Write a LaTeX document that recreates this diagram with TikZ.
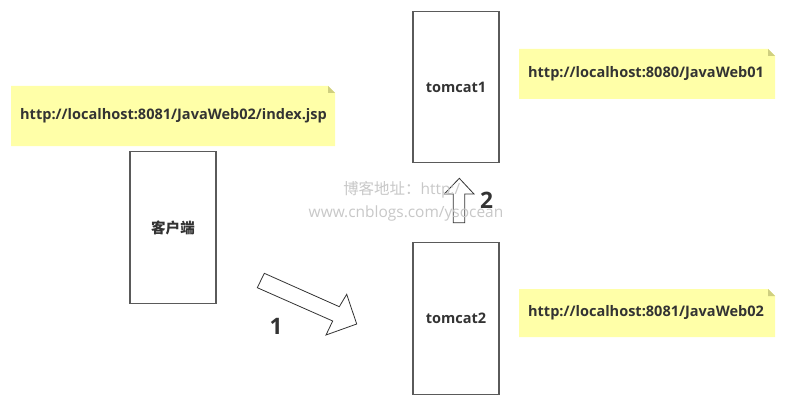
\documentclass[tikz,border=0pt]{standalone}
\usepackage{fontspec}
\setmainfont{Open Sans}
\newfontfamily\cjk{Noto Sans CJK SC}
\definecolor{notefill}{HTML}{FFFFA8}
\definecolor{notefold}{HTML}{CFCF80}
\definecolor{boxline}{HTML}{5A5A5A}
\definecolor{textdark}{HTML}{333333}
\definecolor{wmark}{HTML}{C8C8C8}
\tikzset{
  px/.style={x=0.75pt,y=-0.75pt},
  server/.style={draw=boxline,line width=0.8pt,fill=white,minimum width=64.5pt,minimum height=113.5pt,inner sep=0pt,text=textdark,font=\bfseries\fontsize{10.9}{12}\selectfont},
  note/.style={fill=notefill,draw=none,inner sep=0pt,text=textdark,font=\bfseries\fontsize{10.9}{12}\selectfont},
  bigarrow/.style={draw=textdark,line width=0.6pt,fill=white,line join=miter},
  steplabel/.style={text=textdark,inner sep=0pt,font=\bfseries\fontsize{17}{20}\selectfont},
  wm/.style={text=wmark,inner sep=0pt,font=\fontsize{11.6}{13}\selectfont},
}
\begin{document}
\begin{tikzpicture}[px]
\useasboundingbox[fill=white] (0,0) rectangle (789,403);
% notes
\newcommand\notebox[5]{%
  \fill[notefill] (#1,#2) -- (#3-7,#2) -- (#3,#2+7) -- (#3,#4) -- (#1,#4) -- cycle;
  \fill[notefold] (#3-7,#2) -- (#3,#2+7) -- (#3-7,#2+7) -- cycle;
  \coordinate (#5) at ({(#1+#3)/2},{(#2+#4)/2});
}
\notebox{11}{86}{335}{146}{n1}
\node[note,anchor=center] (t1) at (173.5,116) {http://localhost:8081/JavaWeb02/index.jsp};
\notebox{519}{49}{775}{99}{n2}
\node[note,anchor=center] (t2) at (646,74) {http://localhost:8080/JavaWeb01};
\notebox{519}{289}{775}{337}{n3}
\node[note,anchor=center] (t3) at (646,313) {http://localhost:8081/JavaWeb02};
% boxes
\node[server] (client) at (173,227.5) {\cjk\bfseries 客户端};
\node[server] (tc1) at (456,87) {tomcat1};
\node[server] (tc2) at (456,318.5) {tomcat2};
% arrow 1
\draw[bigarrow] (264.3,273.3) -- (339.3,306.7) -- (346.7,294.3) -- (356.7,324) -- (326,335) -- (332.7,321) -- (257.3,287.7) -- cycle;
\node[steplabel] (s1) at (276,326) {1};
% arrow 2
\draw[bigarrow] (453.3,222.7) -- (453.3,194) -- (444.3,194) -- (459.3,178.3) -- (474,194) -- (464.7,194) -- (464.7,222.7) -- cycle;
\node[steplabel] (s2) at (486.5,200) {2};
% watermark
\node[wm,anchor=west] (w1) at (343,190) {{\cjk 博客地址：}http:/};
\node[wm] (w2) at (406,213) {www.cnblogs.com/ysocean};
\end{tikzpicture}
\end{document}
